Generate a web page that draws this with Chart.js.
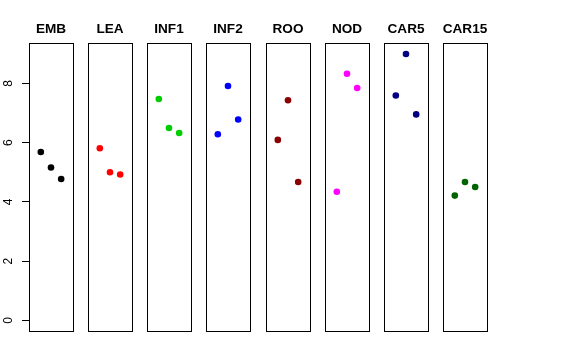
<!DOCTYPE html>
<html lang="en">
<head>
<meta charset="UTF-8" />
<title>Panels</title>
<script src="https://cdn.jsdelivr.net/npm/chart.js@4.4.0/dist/chart.umd.min.js"></script>
<style>
  body { margin: 0; background: #fff; width: 576px; height: 360px; position: relative; overflow: hidden; }
  canvas.panel { position: absolute; top: 0; }
</style>
</head>
<body>
<script>
// Data
const panelNames  = ['EMB', 'LEA', 'INF1', 'INF2', 'ROO', 'NOD', 'CAR5', 'CAR15'];
const panelColors = ['#000000', '#FF0000', '#00CD00', '#0000FF', '#8B0000', '#FF00FF', '#000080', '#006400'];
const xPositions  = [1, 2, 3];
const embValues   = [5.68, 5.16, 4.77];
const leaValues   = [5.81, 5.00, 4.92];
const inf1Values  = [7.47, 6.49, 6.32];
const inf2Values  = [6.28, 7.91, 6.78];
const rooValues   = [6.09, 7.43, 4.67];
const nodValues   = [4.34, 8.32, 7.84];
const car5Values  = [7.59, 8.99, 6.95];
const car15Values = [4.21, 4.67, 4.50];
const yTicks      = [0, 2, 4, 6, 8];

const panelValues = [embValues, leaValues, inf1Values, inf2Values, rooValues, nodValues, car5Values, car15Values];

// Layout (pixels)
const BOX_LEFT = 29, BOX_STEP = 59.14, BOX_W = 44, BOX_TOP = 43, BOX_BOTTOM = 331, AXIS_W = 29;
const SIDE = 8; // spare room either side so titles are not clipped

// frame + title drawn around each chart area
const panelFrame = {
  id: 'panelFrame',
  afterDraw(chart, args, opts) {
    const { ctx, chartArea: a } = chart;
    ctx.save();
    ctx.strokeStyle = '#000';
    ctx.lineWidth = 1;
    ctx.strokeRect(Math.round(a.left) + 0.5, Math.round(a.top) + 0.5,
                   Math.round(a.right - a.left), Math.round(a.bottom - a.top));
    ctx.fillStyle = '#000';
    ctx.font = 'bold 13.6px "Liberation Sans", Arial, sans-serif';
    ctx.textAlign = 'center';
    ctx.textBaseline = 'middle';
    ctx.fillText(opts.text, (a.left + a.right) / 2, a.top - 14);
    ctx.restore();
  }
};

panelNames.forEach((name, i) => {
  const left  = Math.round(BOX_LEFT + BOX_STEP * i);
  const first = i === 0;
  const cv = document.createElement('canvas');
  cv.className = 'panel';
  const cLeft = first ? 0 : left - SIDE;
  const cWidth = first ? left + BOX_W + SIDE : BOX_W + 2 * SIDE;
  const cHeight = BOX_BOTTOM + 2;
  cv.width = cWidth; cv.height = cHeight;
  cv.style.left = cLeft + 'px';
  cv.style.width = cWidth + 'px';
  cv.style.height = cHeight + 'px';
  document.body.appendChild(cv);

  new Chart(cv, {
    type: 'scatter',
    data: {
      datasets: [{
        data: panelValues[i].map((v, k) => ({ x: xPositions[k], y: v })),
        backgroundColor: panelColors[i],
        borderColor: panelColors[i],
        borderWidth: 0,
        pointRadius: 3.3,
        pointHoverRadius: 3.3,
      }],
    },
    options: {
      responsive: false,
      animation: false,
      events: [],
      layout: {
        autoPadding: false,
        padding: { left: first ? 0 : SIDE, right: SIDE, top: BOX_TOP, bottom: cHeight - BOX_BOTTOM },
      },
      plugins: {
        legend: { display: false },
        tooltip: { enabled: false },
        title: { display: false },
        panelFrame: { text: name },
      },
      scales: {
        x: { type: 'linear', min: -0.16, max: 4.16, display: false },
        y: {
          type: 'linear', min: -0.36, max: 9.36, display: first,
          afterBuildTicks: s => { s.ticks = yTicks.map(v => ({ value: v })); },
          afterFit: s => {
            if (!first) return;
            s.width = AXIS_W;
            s.paddingTop = 0; s.paddingBottom = 0;
          },
          border: { display: false },
          grid: { drawOnChartArea: false, tickLength: 7, color: '#000', lineWidth: 1 },
          ticks: {
            minRotation: 90, maxRotation: 90, crossAlign: 'center', padding: 10.4,
            color: '#000', font: { family: '"Liberation Sans", Arial, sans-serif', size: 12 },
          },
        },
      },
    },
    plugins: [panelFrame],
  });
});
</script>
</body>
</html>
